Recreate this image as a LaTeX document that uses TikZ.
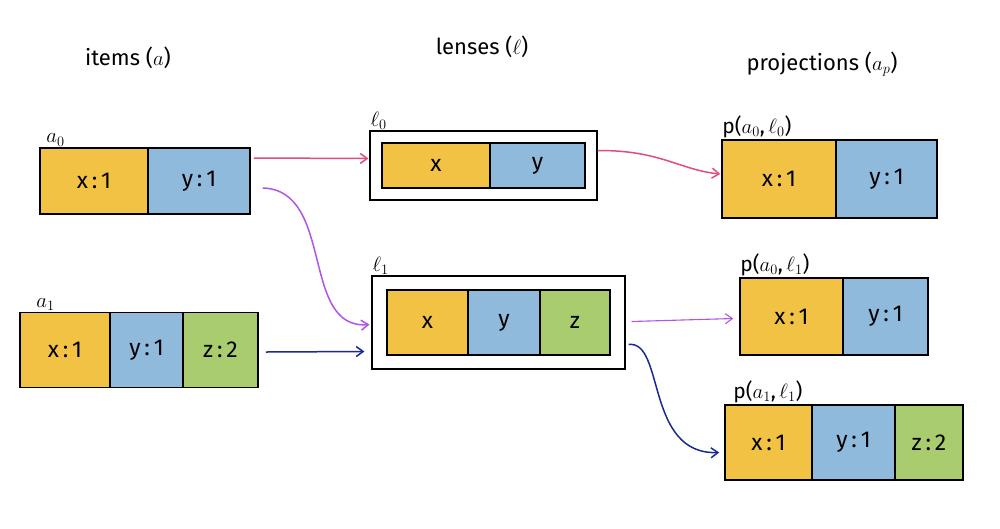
\documentclass[tikz,border=0pt]{standalone}
\usepackage{fontspec}
\setmainfont{Fira Sans}
\usetikzlibrary{arrows.meta,fit,calc}
\definecolor{cyel}{HTML}{F2C245}
\definecolor{cblu}{HTML}{8FBADB}
\definecolor{cgrn}{HTML}{A9CD6E}
\definecolor{cpink}{HTML}{E04F7C}
\definecolor{cpurp}{HTML}{B354E6}
\definecolor{cnavy}{HTML}{1B2A92}
\begin{document}
\begin{tikzpicture}[x=1pt,y=-1pt,
  cell/.style={draw=black,line width=1.5pt,inner sep=0pt,font=\fontsize{23}{26}\selectfont},
  yc/.style={cell,fill=cyel},
  bc/.style={cell,fill=cblu},
  gc/.style={cell,fill=cgrn},
  frame/.style={draw=black,line width=1.6pt,inner sep=11pt},
  lbl/.style={font=\fontsize{21}{24}\selectfont,anchor=south west,inner sep=1pt},
  ttl/.style={font=\fontsize{22}{26}\selectfont},
  conn/.style={line width=1.5pt,-{Straight Barb[length=7pt,width=10pt]}}]
\useasboundingbox[fill=white] (0,0) rectangle (1000,528);

% titles
\node[ttl] (t1) at (128,58) {items ($a$)};
\node[ttl] (t2) at (482,47) {lenses ($\ell$)};
\node[ttl] (t3) at (822,64) {projections ($a_p$)};

% a0
\node[yc,minimum width=108,minimum height=66] (a0y) at (94,181) {x\,:\,1};
\node[bc,minimum width=102,minimum height=66] (a0b) at (199,181) {y\,:\,1};
\node[lbl] (a0l) at ($(a0y.north west)+(6,0)$) {$a_0$};

% a1
\node[yc,minimum width=90,minimum height=75] (a1y) at (65,350) {x\,:\,1};
\node[bc,minimum width=73,minimum height=75] (a1b) at (146.5,350) {y\,:\,1};
\node[gc,minimum width=75,minimum height=75] (a1g) at (220.5,350) {z\,:\,2};
\node[lbl] (a1l) at ($(a1y.north west)+(16,0)$) {$a_1$};

% l0
\node[yc,minimum width=108,minimum height=45] (l0y) at (436,165.5) {x};
\node[bc,minimum width=95,minimum height=45] (l0b) at (537.5,165.5) {y};
\node[frame,fit=(l0y)(l0b)] (l0o) {};
\node[lbl] (l0l) at (l0o.north west) {$\ell_0$};

% l1
\node[yc,minimum width=81,minimum height=65] (l1y) at (427.5,322.5) {x};
\node[bc,minimum width=72,minimum height=65] (l1b) at (504,322.5) {y};
\node[gc,minimum width=70,minimum height=65] (l1g) at (575,322.5) {z};
\node[frame,inner xsep=14pt,inner ysep=13pt,fit=(l1y)(l1g)] (l1o) {};
\node[lbl] (l1l) at (l1o.north west) {$\ell_1$};

% p(a0,l0)
\node[yc,minimum width=114,minimum height=78] (p0y) at (779,179) {x\,:\,1};
\node[bc,minimum width=101,minimum height=78] (p0b) at (886.5,179) {y\,:\,1};
\node[lbl] (p0l) at (p0y.north west) {p($a_0$,\,$\ell_0$)};

% p(a0,l1)
\node[yc,minimum width=103,minimum height=77] (p1y) at (791.5,316.5) {x\,:\,1};
\node[bc,minimum width=85,minimum height=77] (p1b) at (885.5,316.5) {y\,:\,1};
\node[lbl] (p1l) at ($(p1y.north west)+(0,0)$) {p($a_0$,\,$\ell_1$)};

% p(a1,l1)
\node[yc,minimum width=87,minimum height=75] (p2y) at (768.5,442.5) {x\,:\,1};
\node[bc,minimum width=83,minimum height=75] (p2b) at (853.5,442.5) {y\,:\,1};
\node[gc,minimum width=68,minimum height=75] (p2g) at (929,442.5) {z\,:\,2};
\node[lbl] (p2l) at ($(p2y.north west)+(8,0)$) {p($a_1$,\,$\ell_1$)};

% connectors
\draw[conn,cpink] ($(a0b.east)+(3,-23)$) -- ($(l0o.west)+(-1,-7)$);
\draw[conn,cpink] ($(l0o.east)+(0,-15)$) .. controls (660,150) and (680,170) .. ($(p0y.west)+(-1,-5)$);
\draw[conn,cpurp] ($(a0b.east)+(12,7)$) .. controls (335,190) and (300,330) .. ($(l1o.west)+(-2,2)$);
\draw[conn,cnavy] ($(a1g.east)+(7,2)$) -- ($(l1o.west)+(-7,29)$);
\draw[conn,cpurp,line width=1.1pt] ($(l1o.east)+(6,-1)$) -- ($(p1y.west)+(-6,2)$);
\draw[conn,cnavy] ($(l1o.east)+(3,22)$) .. controls (665,340) and (645,455) .. ($(p2y.west)+(-5,10)$);
\end{tikzpicture}
\end{document}
